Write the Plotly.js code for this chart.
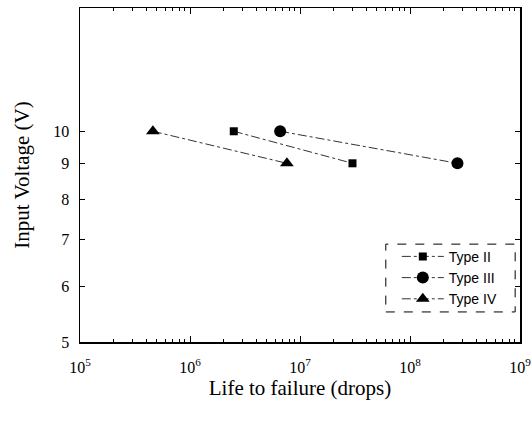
<!DOCTYPE html>
<html>
<head>
<meta charset="utf-8">
<script src="https://cdn.plot.ly/plotly-3.0.1.min.js"></script>
<style>html,body{margin:0;padding:0;background:#fff;}#chart{width:531px;height:427px;}</style>
</head>
<body>
<div id="chart"></div>
<script>
const seriesNames = ["Type II", "Type III", "Type IV"];
const typeII_life = [2.5e6, 3.0e7];
const typeII_volt = [10, 9];
const typeIII_life = [6.6e6, 2.7e8];
const typeIII_volt = [10, 9];
const typeIV_life = [4.6e5, 7.6e6];
const typeIV_volt = [10, 9];
const xTickVals = [1e5, 1e6, 1e7, 1e8, 1e9];
const xTickText = ["10<sup>5</sup>", "10<sup>6</sup>", "10<sup>7</sup>", "10<sup>8</sup>", "10<sup>9</sup>"];
const yTickVals = [5, 6, 7, 8, 9, 10];

const minorX = [];
for (let e = 5; e < 9; e++) for (let m = 2; m <= 9; m++) minorX.push(m * Math.pow(10, e));

const lineStyle = {color: '#333', width: 1, dash: 'dashdot'};
const traces = [
  {x: typeII_life, y: typeII_volt, name: seriesNames[0], mode: 'lines+markers',
   line: lineStyle, marker: {symbol: 'square', size: 8, color: '#000'}},
  {x: typeIII_life, y: typeIII_volt, name: seriesNames[1], mode: 'lines+markers',
   line: lineStyle, marker: {symbol: 'circle', size: 12, color: '#000'}},
  {x: typeIV_life, y: typeIV_volt, name: seriesNames[2], mode: 'lines+markers',
   line: lineStyle, marker: {symbol: 'triangle-up', size: 12, color: '#000'}}
];

const layout = {
  width: 531, height: 427,
  margin: {l: 80, r: 11, t: 8, b: 85},
  paper_bgcolor: '#fff', plot_bgcolor: '#fff',
  showlegend: true,
  legend: {x: 0.72, y: 0.303, xanchor: 'left', yanchor: 'top',
    font: {family: 'Liberation Sans, Arial, sans-serif', size: 14, color: '#000'},
    bgcolor: 'rgba(255,255,255,0)', borderwidth: 0, tracegroupgap: 0, itemwidth: 42},
  xaxis: {
    type: 'log', range: [5, 9],
    tickvals: xTickVals, ticktext: xTickText, ticklabeloverflow: 'allow',
    ticks: 'inside', ticklen: 6, tickcolor: '#000', tickwidth: 1,
    minor: {tickvals: minorX, ticks: 'inside', ticklen: 3, tickcolor: '#000'},
    showline: true, linecolor: '#000', linewidth: 1.5, mirror: 'ticks',
    showgrid: false, zeroline: false, ticklabelstandoff: 10,
    tickfont: {family: 'Liberation Serif, Times New Roman, serif', size: 16, color: '#000'},
    title: {text: 'Life to failure (drops)', standoff: 2,
      font: {family: 'Liberation Serif, Times New Roman, serif', size: 21, color: '#000'}}
  },
  yaxis: {
    type: 'log', range: [Math.log10(5), Math.log10(15)],
    tickvals: yTickVals, ticktext: yTickVals.map(String),
    ticks: 'inside', ticklen: 5, tickcolor: '#000', tickwidth: 1,
    showline: true, linecolor: '#000', linewidth: 1.5, mirror: 'ticks',
    showgrid: false, zeroline: false, ticklabelstandoff: 6,
    tickfont: {family: 'Liberation Serif, Times New Roman, serif', size: 16, color: '#000'},
    title: {text: 'Input Voltage (V)', standoff: 18,
      font: {family: 'Liberation Serif, Times New Roman, serif', size: 21, color: '#000'}}
  },
  shapes: [
    {type: 'rect', xref: 'paper', yref: 'paper', x0: 0.695, x1: 0.989, y0: 0.09, y1: 0.293,
     line: {color: '#000', width: 1, dash: 'dash'}}
  ]
};

Plotly.newPlot('chart', traces, layout, {displayModeBar: false, staticPlot: true});
</script>
</body>
</html>
